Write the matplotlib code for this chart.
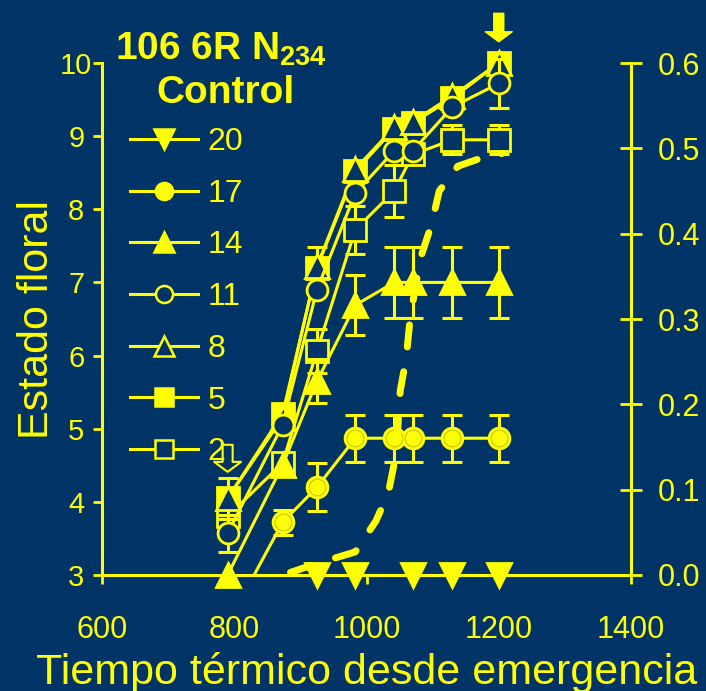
import numpy as np
import matplotlib
matplotlib.use('Agg')
import matplotlib.pyplot as plt
from matplotlib.lines import Line2D

plt.rcParams['font.family'] = ['Liberation Sans', 'DejaVu Sans']
plt.rcParams['mathtext.fontset'] = 'custom'
plt.rcParams['mathtext.rm'] = 'Liberation Sans'
plt.rcParams['mathtext.bf'] = 'Liberation Sans:bold'

BG = '#003366'
YEL = '#ffff00'

# tiempo termico (x) comun a casi todas las series
tiempo = [790, 873, 925, 983, 1042, 1070, 1130, 1200]

# estado floral por nudo
nudo2 = [3.8, 4.53, 6.06, 7.72, 8.25, 8.75, 8.95, 8.95]
nudo5 = [4.05, 5.2, 7.2, 8.52, 9.1, 9.18, 9.52, 10.0]
nudo8 = [4.05, 5.15, 7.22, 8.55, 9.12, 9.2, 9.55, 10.0]
nudo11 = [3.57, 5.05, 6.9, 8.22, 8.8, 8.8, 9.4, 9.72]
nudo14 = [3.0, 4.5, 5.65, 6.69, 7.0, 7.0, 7.0, 7.0]
tiempo17 = [830, 873, 925, 983, 1042, 1070, 1130, 1200]
nudo17 = [3.0, 3.72, 4.2, 4.87, 4.87, 4.87, 4.87, 4.87]
tiempo20 = [925, 983, 1070, 1130, 1200]
nudo20 = [3.0, 3.0, 3.0, 3.0, 3.0]

# errores (0 = sin barra)
err2 = [0, 0, 0.3, 0.33, 0.35, 0, 0.2, 0.2]
err8 = [0.28, 0, 0.27, 0, 0, 0, 0, 0]
err11 = [0.25, 0, 0, 0, 0, 0, 0, 0.33]
err14 = [0, 0, 0.3, 0.41, 0.49, 0.49, 0.49, 0.49]
err17 = [0, 0.17, 0.33, 0.32, 0.32, 0.32, 0.32, 0.32]

# curva discontinua (eje derecho)
curva_x = [885, 927, 983, 1014, 1033, 1045, 1051, 1060, 1066, 1081, 1098, 1110, 1138, 1186, 1205]
curva_y = [0.003, 0.014, 0.027, 0.063, 0.096, 0.143, 0.216, 0.254, 0.301, 0.370, 0.410, 0.450, 0.479, 0.492, 0.494]

yticks_der = [0.0, 0.1, 0.2, 0.3, 0.4, 0.5, 0.6]


def main():
    fig = plt.figure(figsize=(7.06, 6.91), dpi=100, facecolor=BG)
    ax = fig.add_axes([0.1445, 0.1679, 0.7493, 0.7409], facecolor=BG)

    series = [
        ('2', tiempo, nudo2, err2, 's', False, 15.5),
        ('5', tiempo, nudo5, None, 's', True, 15.5),
        ('8', tiempo, nudo8, err8, '^', False, 17),
        ('11', tiempo, nudo11, err11, 'o', False, 15),
        ('14', tiempo, nudo14, err14, '^', True, 17),
        ('17', tiempo17, nudo17, err17, 'o', True, 15),
        ('20', tiempo20, nudo20, None, 'v', True, 17),
    ]

    handles = {}
    for i, (lab, x, y, e, mk, filled, ms) in enumerate(series):
        x = np.array(x, float)
        y = np.array(y, float)
        z = 3 + i
        if e is not None:
            e = np.array(e, float)
            m = e > 0
            ax.errorbar(x[m], y[m], yerr=e[m], fmt='none', ecolor=YEL,
                        elinewidth=2.2, capsize=7, capthick=2.2,
                        clip_on=False, zorder=z - 0.5)
        fc = YEL if filled else BG
        every = list(range(1, len(x))) if lab == '17' else None
        ax.plot(x, y, color=YEL, lw=2.2, marker=mk, ms=ms, mfc=fc, mec=YEL,
                mew=2, markevery=every, clip_on=False, zorder=z)
        if lab == '17':
            ax.plot(x[1:], y[1:], ls='none', marker='o', ms=12, mfc='none',
                    mec='#c8c800', mew=0.8, clip_on=False, zorder=z + 0.1)
        handles[lab] = Line2D([], [], color=YEL, lw=2.2, marker=mk,
                              ms=ms * 0.82, mfc=fc, mec=YEL, mew=1.8)

    ax.set_xlim(600, 1400)
    ax.set_ylim(3, 10)
    ax.set_xticks([600, 800, 1000, 1200, 1400])
    ax.set_yticks(range(3, 11))

    for s in ['top', 'right']:
        ax.spines[s].set_visible(False)
    for s in ['left', 'bottom']:
        ax.spines[s].set_color(YEL)
        ax.spines[s].set_linewidth(2.2)

    ax.tick_params(axis='x', direction='out', length=6.5, width=2, colors=YEL,
                   labelsize=22, pad=22)
    ax.tick_params(axis='y', direction='out', length=6.5, width=2, colors=YEL,
                   labelsize=21, pad=12)
    for t in ax.get_yticklabels():
        t.set_ha('center')

    ax.set_xlabel('Tiempo térmico desde emergencia', fontsize=31, color=YEL,
                  labelpad=5)
    ax.set_ylabel('Estado floral', fontsize=31, color=YEL, labelpad=2)

    # eje derecho
    ax2 = ax.twinx()
    ax2.set_ylim(0, 0.6)
    ax2.set_yticks(yticks_der)
    ax2.set_yticklabels(['%.1f' % v for v in yticks_der])
    for s in ['top', 'left', 'bottom']:
        ax2.spines[s].set_visible(False)
    ax2.spines['right'].set_color(YEL)
    ax2.spines['right'].set_linewidth(2.2)
    ax2.tick_params(axis='y', direction='inout', length=16, width=2,
                    colors=YEL, labelsize=22, pad=11)
    ax2.plot(curva_x, curva_y, color=YEL, lw=5, ls=(0, (3.2, 3.6)),
             dash_capstyle='round', zorder=20)

    # flechas
    ax.annotate('', xy=(1200, 10.29), xytext=(1200, 10.68),
                arrowprops=dict(arrowstyle='simple,head_length=0.36,head_width=0.97,tail_width=0.36',
                                fc=YEL, ec=YEL, lw=1, mutation_scale=20,
                                shrinkA=0, shrinkB=0, clip_on=False),
                annotation_clip=False, zorder=30)
    ax.annotate('', xy=(790, 4.41), xytext=(790, 4.78),
                arrowprops=dict(arrowstyle='simple,head_length=0.36,head_width=0.97,tail_width=0.36',
                                fc=BG, ec=YEL, lw=1.5, mutation_scale=20,
                                shrinkA=0, shrinkB=0, clip_on=False),
                annotation_clip=False, zorder=30)

    # titulo y leyenda
    fig.text(221 / 706, 1 - 60 / 691, '106 6R N$_{\\mathbf{234}}$', ha='center',
             va='baseline', fontsize=28, fontweight='bold', color=YEL)
    fig.text(226 / 706, 1 - 103 / 691, 'Control', ha='center',
             va='baseline', fontsize=28, fontweight='bold', color=YEL)

    orden = ['20', '17', '14', '11', '8', '5', '2']
    fig.legend([handles[k] for k in orden], orden, loc='upper left',
               bbox_to_anchor=(130 / 706, 1 - 127 / 691), frameon=False,
               fontsize=23, handlelength=2.13, handletextpad=0.3,
               labelspacing=0.68, borderpad=0, borderaxespad=0,
               labelcolor=YEL)

    fig.savefig('out.png', dpi=100, facecolor=BG)


if __name__ == '__main__':
    main()
